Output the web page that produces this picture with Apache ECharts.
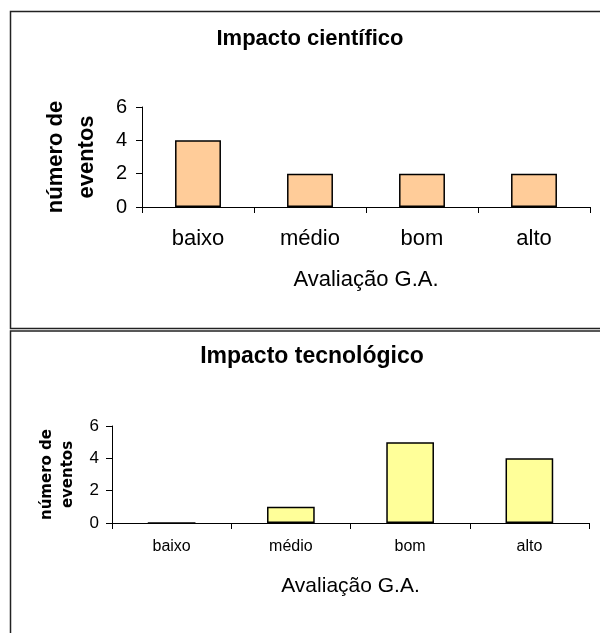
<!DOCTYPE html>
<html><head><meta charset="utf-8">
<script src="https://cdn.jsdelivr.net/npm/echarts@6/dist/echarts.min.js"></script>
<style>html,body{margin:0;padding:0;background:#fff}#c{width:600px;height:633px}</style>
</head><body><div id="c"></div>
<script>
const categories = ['baixo', 'médio', 'bom', 'alto'];
const cientifico = [4, 2, 2, 2];
const tecnologico = [0, 1, 5, 4];
const yTicks = [0, 2, 4, 6];
const titles = ['Impacto científico', 'Impacto tecnológico'];
const xName = 'Avaliação G.A.';
const yName = 'número de\neventos';

const F = 'Liberation Sans, Arial, sans-serif';
const chart = echarts.init(document.getElementById('c'));
function xAxis(gi, fs, margin, nameFs, nameGap) {
  return {
    type: 'category', gridIndex: gi, data: categories,
    axisLine: {lineStyle: {color: '#000', width: 1}},
    axisTick: {show: true, length: 6, lineStyle: {color: '#000'}, alignWithLabel: false},
    axisLabel: {color: '#000', fontSize: fs, fontFamily: F, margin: margin},
    name: xName, nameLocation: 'middle', nameGap: nameGap,
    nameTextStyle: {color: '#000', fontSize: nameFs, fontFamily: F}
  };
}
function yAxis(gi, fs, margin, nameFs, nameFont, nameGap, lh) {
  return {
    type: 'value', gridIndex: gi, min: yTicks[0], max: yTicks[yTicks.length - 1], interval: 2,
    axisLine: {show: true, lineStyle: {color: '#000', width: 1}},
    axisTick: {show: true, length: 6, lineStyle: {color: '#000'}},
    splitLine: {show: false},
    axisLabel: {color: '#000', fontSize: fs, fontFamily: F, margin: margin},
    name: yName, nameLocation: 'middle', nameGap: nameGap, nameRotate: 90,
    nameTextStyle: {color: '#000', fontSize: nameFs, fontWeight: 'bold', fontFamily: nameFont, lineHeight: lh}
  };
}
chart.setOption({
  animation: false,
  graphic: [
    {type: 'rect', shape: {x: 10.5, y: 11.5, width: 600, height: 317}, style: {fill: 'none', stroke: '#222', lineWidth: 1.5}},
    {type: 'rect', shape: {x: 10.5, y: 331, width: 600, height: 320}, style: {fill: 'none', stroke: '#222', lineWidth: 1.5}}
  ],
  title: [
    {text: titles[0], left: 305, top: 23, textAlign: 'center', textStyle: {fontSize: 22, fontWeight: 'bold', fontFamily: F, color: '#000'}},
    {text: titles[1], left: 307, top: 340, textAlign: 'center', textStyle: {fontSize: 23, fontWeight: 'bold', fontFamily: F, color: '#000'}}
  ],
  grid: [
    {left: 142, right: 10, top: 107, height: 100},
    {left: 112, right: 11, top: 426, height: 97}
  ],
  xAxis: [xAxis(0, 22, 21, 22, 62), xAxis(1, 16, 16, 21, 53)],
  yAxis: [yAxis(0, 20, 15, 22, F, 40, 31), yAxis(1, 17, 13, 15, 'DejaVu Sans, sans-serif', 30, 21)],
  series: [
    {type: 'bar', xAxisIndex: 0, yAxisIndex: 0, data: cientifico, barWidth: '41%',
     itemStyle: {color: '#FFCC99', borderColor: '#000', borderWidth: 1.5}},
    {type: 'bar', xAxisIndex: 1, yAxisIndex: 1, data: tecnologico, barWidth: '40%',
     itemStyle: {color: '#FFFF99', borderColor: '#000', borderWidth: 1.5}}
  ]
});
</script></body></html>
